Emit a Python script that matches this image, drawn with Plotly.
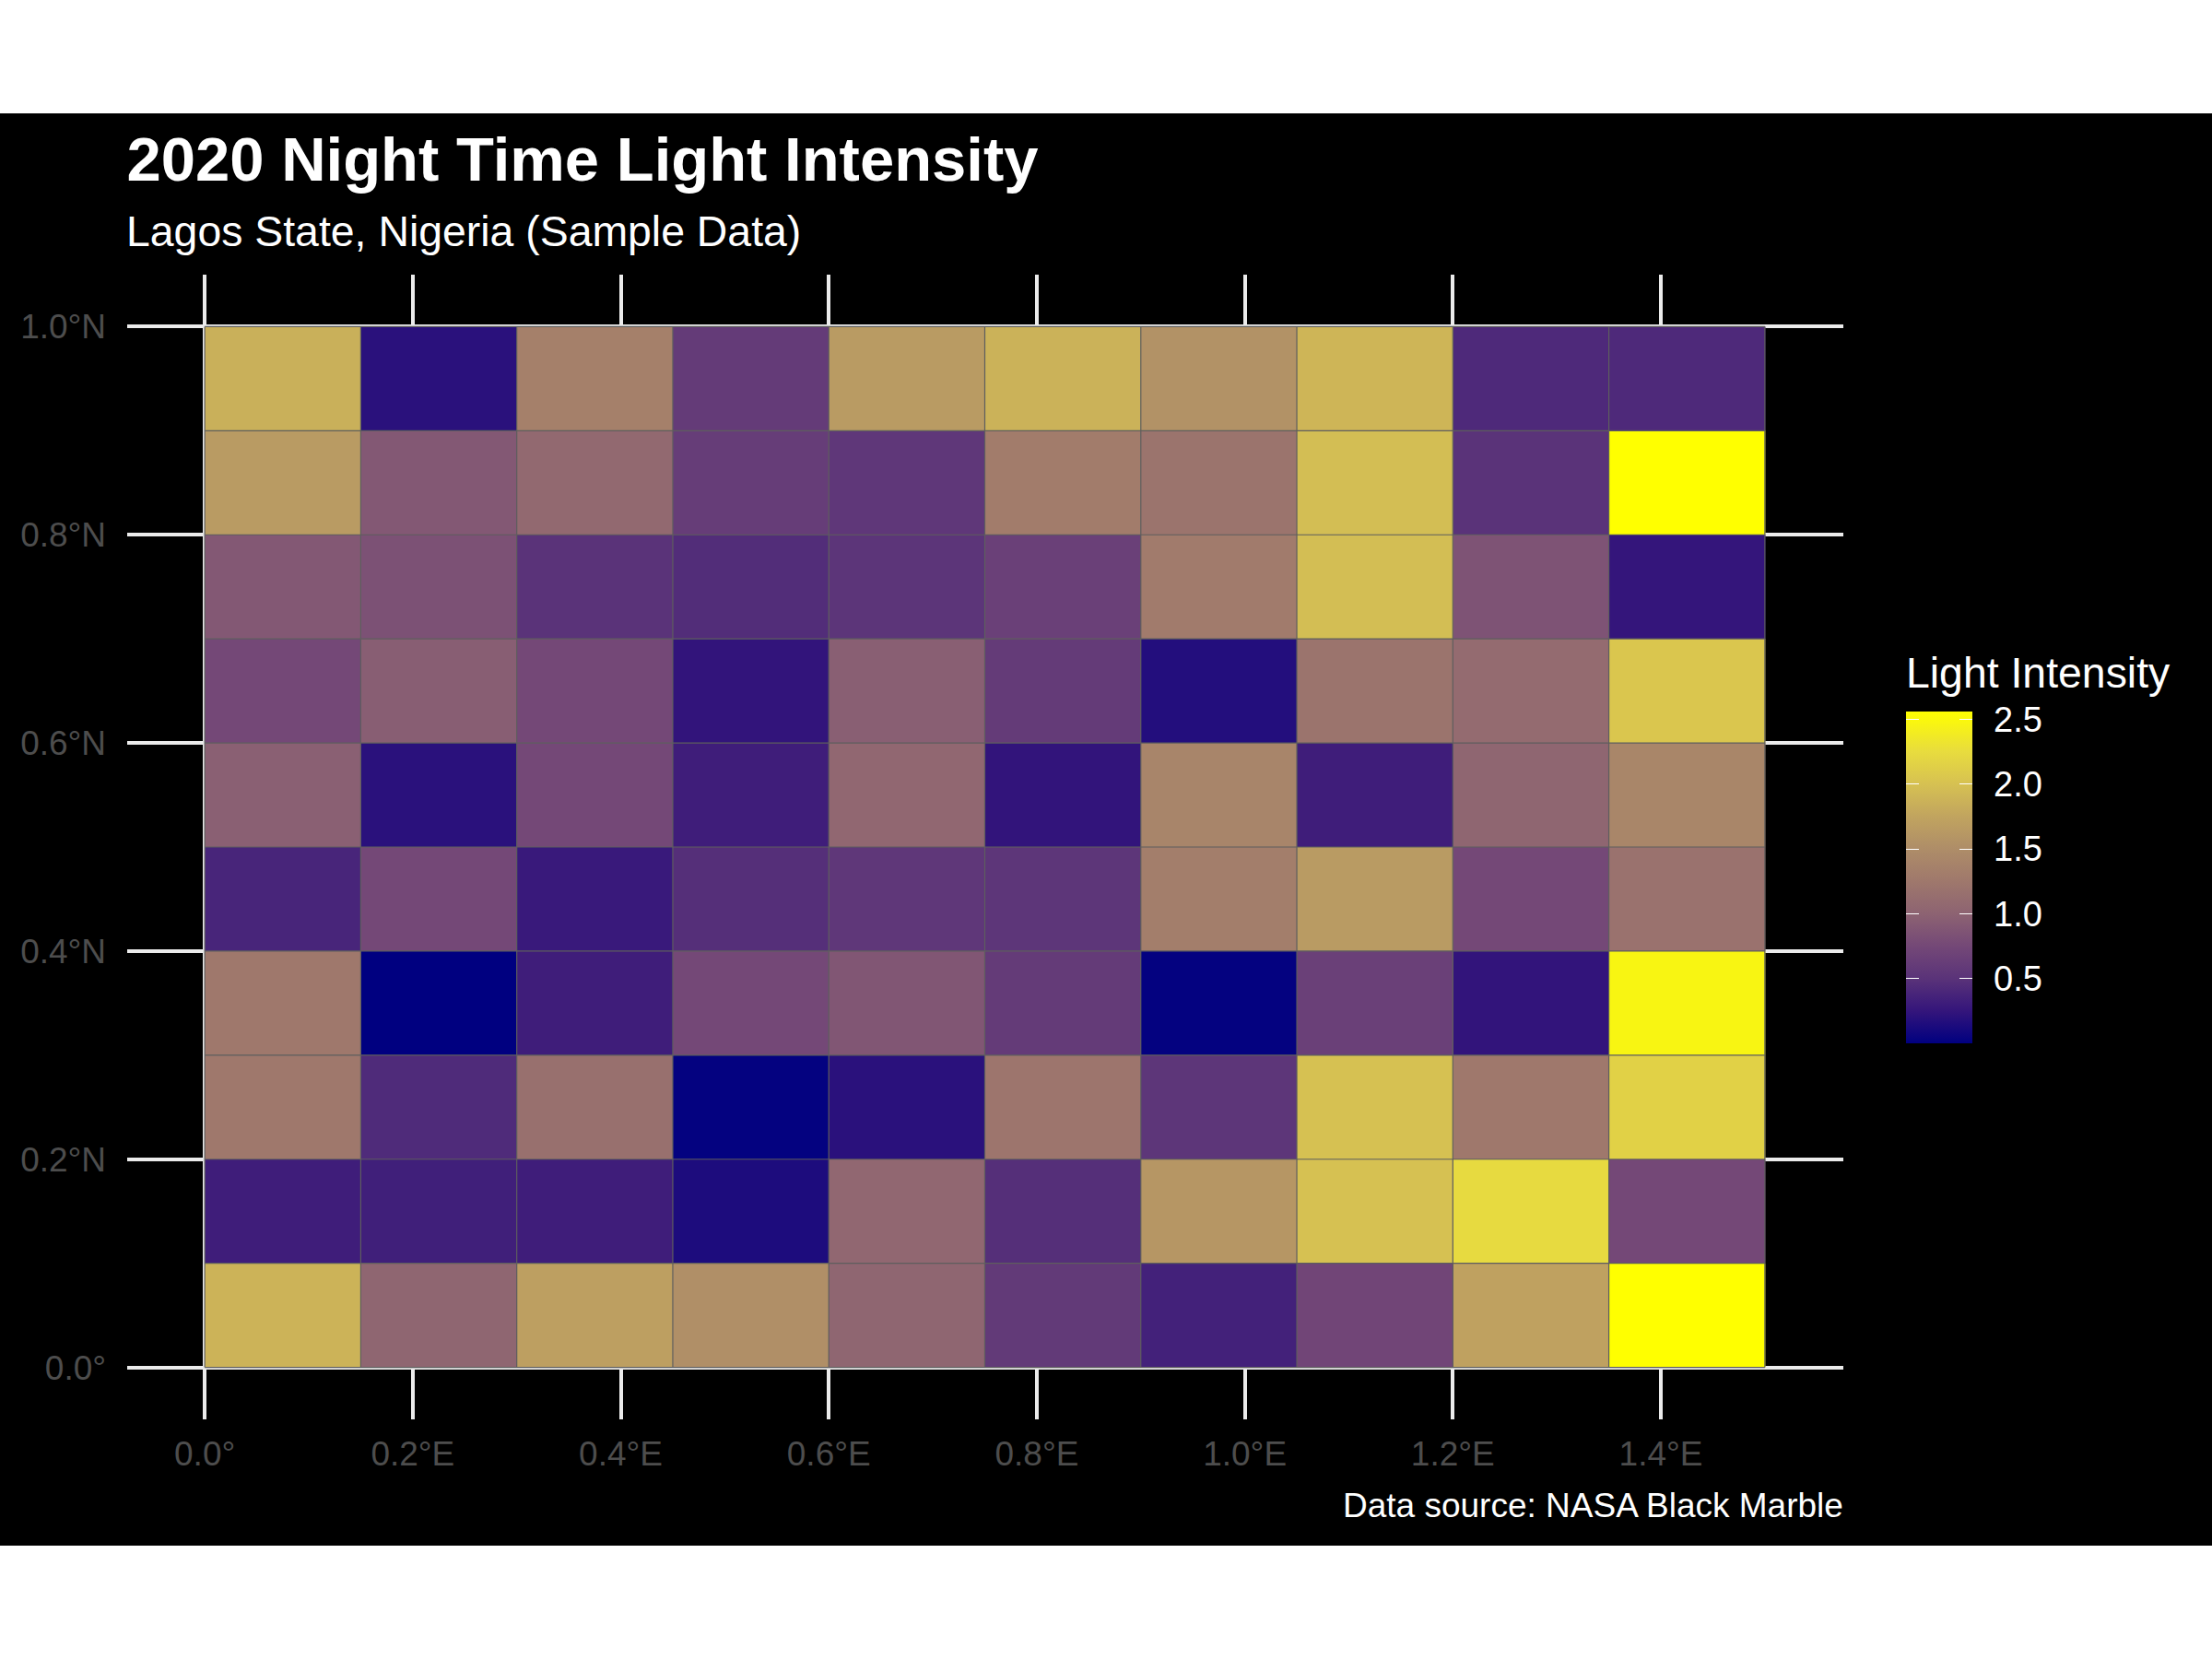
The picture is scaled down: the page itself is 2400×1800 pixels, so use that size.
import plotly.graph_objects as go

FIG_W, FIG_H = 2400, 1800
FONT = "Liberation Sans"

TITLE = "2020 Night Time Light Intensity"
SUBTITLE = "Lagos State, Nigeria (Sample Data)"
CAPTION = "Data source: NASA Black Marble"
LEGEND_TITLE = "Light Intensity"

lon_edges = [0.0, 0.15, 0.3, 0.45, 0.6, 0.75, 0.9, 1.05, 1.2, 1.35, 1.5]
lat_edges = [0.0, 0.1, 0.2, 0.3, 0.4, 0.5, 0.6, 0.7, 0.8, 0.9, 1.0]

row_00 = [1.88, 1.03, 1.70, 1.52, 1.03, 0.58, 0.35, 0.72, 1.72, 2.56]
row_01 = [0.32, 0.33, 0.32, 0.14, 1.05, 0.47, 1.60, 2.00, 2.23, 0.75]
row_02 = [1.25, 0.43, 1.15, 0.02, 0.20, 1.22, 0.53, 2.00, 1.25, 2.15]
row_03 = [1.25, 0.00, 0.32, 0.75, 0.88, 0.60, 0.02, 0.65, 0.24, 2.47]
row_04 = [0.38, 0.75, 0.28, 0.47, 0.55, 0.53, 1.32, 1.65, 0.75, 1.18]
row_05 = [0.97, 0.20, 0.75, 0.32, 1.05, 0.24, 1.40, 0.32, 1.03, 1.42]
row_06 = [0.75, 0.95, 0.75, 0.24, 0.96, 0.60, 0.17, 1.20, 1.10, 2.05]
row_07 = [0.90, 0.83, 0.50, 0.45, 0.52, 0.65, 1.28, 1.97, 0.85, 0.25]
row_08 = [1.65, 0.90, 1.07, 0.62, 0.55, 1.30, 1.20, 1.97, 0.50, 2.56]
row_09 = [1.85, 0.20, 1.35, 0.60, 1.65, 1.87, 1.55, 1.90, 0.42, 0.42]
intensity = [row_00, row_01, row_02, row_03, row_04, row_05, row_06, row_07, row_08, row_09]

lon_ticks = [0.0, 0.2, 0.4, 0.6, 0.8, 1.0, 1.2, 1.4]
lon_labels = ["0.0°", "0.2°E", "0.4°E", "0.6°E", "0.8°E", "1.0°E", "1.2°E", "1.4°E"]
lat_ticks = [0.0, 0.2, 0.4, 0.6, 0.8, 1.0]
lat_labels = ["0.0°", "0.2°N", "0.4°N", "0.6°N", "0.8°N", "1.0°N"]
legend_ticks = [0.5, 1.0, 1.5, 2.0, 2.5]
legend_labels = ["0.5", "1.0", "1.5", "2.0", "2.5"]

z_min, z_max = 0.0, 2.56
color_values = [0.0, 0.25, 0.5, 0.75, 1.0, 1.25, 1.5, 1.75, 2.0, 2.25, 2.56]
color_hex = ["#000080", "#34157B", "#5A3379", "#744877", "#8D6372", "#9F786C",
             "#AE8D68", "#C1A45F", "#D6C152", "#E8DC3E", "#FFFF00"]
colorscale = [[(v - z_min) / (z_max - z_min), c] for v, c in zip(color_values, color_hex)]

# pixel layout
PANEL = dict(left=137.5, right=1999.5, top=298, bottom=1540)
BAND = dict(top=123, bottom=1677)
BAR = dict(left=2068, right=2140, top=772, bottom=1132)
TICK_LEN = 14
px = lambda v: v / FIG_W
py = lambda v: 1 - v / FIG_H

fig = go.Figure()


def bar_opts(left, thickness, labels):
    shown = labels is not None
    return dict(
        thickness=thickness, thicknessmode="pixels", len=BAR["bottom"] - BAR["top"], lenmode="pixels",
        x=px(left), xanchor="left", xpad=0, y=py(BAR["bottom"]), yanchor="bottom", ypad=0,
        outlinewidth=0, bgcolor="rgba(0,0,0,0)",
        tickmode="array", tickvals=legend_ticks, ticktext=labels if shown else [""] * len(legend_ticks),
        ticks="outside" if shown else "inside", ticklen=16 if shown else TICK_LEN, tickwidth=1,
        tickcolor="rgba(0,0,0,0)" if shown else "#FFFFFF",
        tickfont=dict(family=FONT, size=38, color="#FFFFFF"),
    )


# The colour bar with its labels, then two narrow bars of the same data that
# supply the tick marks on both inner edges of the key.
for opts in (
    bar_opts(BAR["left"], BAR["right"] - BAR["left"], legend_labels),
    bar_opts(BAR["left"], TICK_LEN, None),
    bar_opts(BAR["right"] - TICK_LEN, TICK_LEN, None),
):
    fig.add_trace(go.Heatmap(
        x=lon_edges, y=lat_edges, z=intensity, zmin=z_min, zmax=z_max, colorscale=colorscale,
        showscale=True, colorbar=opts, hoverongaps=False,
    ))

# thin cell borders
bx, by = [], []
for lon in lon_edges:
    bx += [lon, lon, None]
    by += [lat_edges[0], lat_edges[-1], None]
for lat in lat_edges:
    bx += [lon_edges[0], lon_edges[-1], None]
    by += [lat, lat, None]
fig.add_trace(go.Scatter(x=bx, y=by, mode="lines", line=dict(color="#5E5E5E", width=1.2),
                         hoverinfo="skip", showlegend=False, cliponaxis=False))

axis_common = dict(showgrid=True, gridcolor="#EBEBEB", gridwidth=3.8, zeroline=False, showline=False,
                   tickmode="array", ticks="outside", ticklen=1, tickcolor="rgba(0,0,0,0)",
                   tickfont=dict(family=FONT, size=37, color="#4D4D4D"), automargin=False)

fig.update_layout(
    width=FIG_W, height=FIG_H, margin=dict(l=0, r=0, t=0, b=0), autosize=False,
    paper_bgcolor="#FFFFFF", plot_bgcolor="rgba(0,0,0,0)", showlegend=False,
    xaxis=dict(domain=[px(PANEL["left"]), px(PANEL["right"])], range=[-0.075, 1.575],
               tickvals=lon_ticks, ticktext=lon_labels, ticklabelstandoff=4, **axis_common),
    yaxis=dict(domain=[py(PANEL["bottom"]), py(PANEL["top"])], range=[-0.05, 1.05],
               tickvals=lat_ticks, ticktext=lat_labels, ticklabelstandoff=13, **axis_common),
    title=dict(text=TITLE, x=px(PANEL["left"]), xref="paper", xanchor="left", y=py(173), yanchor="middle",
               font=dict(family=FONT, size=67, color="#FFFFFF", weight="bold"), pad=dict(l=0, r=0, t=0, b=0)),
    shapes=[dict(type="rect", xref="paper", yref="paper", x0=0, x1=1, y0=py(BAND["bottom"]), y1=py(BAND["top"]),
                 fillcolor="#000000", line=dict(width=0), layer="below")],
    annotations=[
        dict(text=SUBTITLE, xref="paper", yref="paper", x=px(PANEL["left"] - 2.5), y=py(251), xanchor="left",
             yanchor="middle", showarrow=False, font=dict(family=FONT, size=46.4, color="#FFFFFF")),
        dict(text=CAPTION, xref="paper", yref="paper", x=px(PANEL["right"] + 2), y=py(1633), xanchor="right",
             yanchor="middle", showarrow=False, font=dict(family=FONT, size=37, color="#FFFFFF")),
        dict(text=LEGEND_TITLE, xref="paper", yref="paper", x=px(BAR["left"] - 2.5), y=py(729.5), xanchor="left",
             yanchor="middle", showarrow=False, font=dict(family=FONT, size=46.4, color="#FFFFFF")),
    ],
)

fig.write_html("out.html", config={"displayModeBar": False},
               post_script="document.body.style.margin='0';")
